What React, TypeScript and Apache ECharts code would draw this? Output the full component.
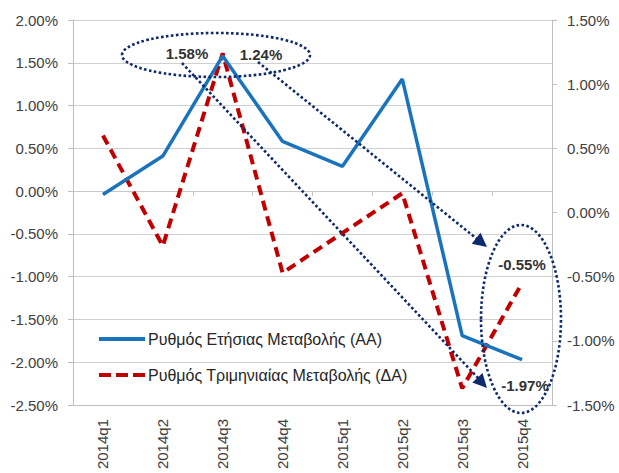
import React, { useEffect, useRef } from "react";
import * as echarts from "echarts";

const categories = ["2014q1", "2014q2", "2014q3", "2014q4", "2015q1", "2015q2", "2015q3", "2015q4"];
const annualRate = [-0.04, 0.41, 1.58, 0.58, 0.29, 1.31, -1.69, -1.97];
const quarterlyRate = [0.6, -0.26, 1.24, -0.47, -0.16, 0.15, -1.37, -0.55];
const seriesNames = ["Ρυθμός Ετήσιας Μεταβολής (ΑΑ)", "Ρυθμός Τριμηνιαίας Μεταβολής (ΔΑ)"];

const FONT = "'Liberation Sans', Arial, sans-serif";
const NAVY = "#0f2a6b";
const TXT = "#404040";
const BLUE = "#1a73bd";
const RED = "#c00000";

function arrowHead(x1: number, y1: number, x2: number, y2: number, len = 14, half = 7) {
  const dx = x2 - x1, dy = y2 - y1;
  const L = Math.hypot(dx, dy);
  const ux = dx / L, uy = dy / L;
  const nx = -uy, ny = ux;
  const bx = x2 - ux * len, by = y2 - uy * len;
  return [
    [x2, y2],
    [bx + nx * half, by + ny * half],
    [bx - nx * half, by - ny * half],
  ];
}

const dotted = { stroke: NAVY, lineWidth: 2.6, lineDash: [2.6, 2.4], fill: "none" };

export default function App() {
  const ref = useRef<HTMLDivElement>(null);
  useEffect(() => {
    if (!ref.current) return;
    const chart = echarts.init(ref.current, undefined, { renderer: "svg" });
    const fmt = (v: number) => v.toFixed(2) + "%";
    const a1 = [258, 62, 487, 247];
    const a2 = [182, 63, 487, 388];
    const labelFont = `bold 15px ${FONT}`;
    chart.setOption({
      animation: false,
      backgroundColor: "#ffffff",
      textStyle: { fontFamily: FONT },
      grid: { left: 73, right: 67, top: 20, bottom: 68 },
      legend: {
        data: [
          { name: seriesNames[0], icon: "path://M0,0H46V4H0Z" },
          { name: seriesNames[1], icon: "path://M0,0H12V4H0Z M17,0H29V4H17Z M34,0H46V4H34Z" },
        ],
        orient: "vertical",
        left: 94,
        top: 326,
        itemWidth: 46,
        itemHeight: 4,
        itemGap: 20,
        textStyle: { fontFamily: FONT, fontSize: 16, color: "#262626", padding: [0, 0, 0, -2] },
      },
      xAxis: [
        {
          type: "category",
          data: categories,
          boundaryGap: true,
          position: "bottom",
          axisLine: { show: true, onZero: false, lineStyle: { color: "#bfbfbf", width: 1 } },
          axisTick: { show: false },
          axisLabel: { rotate: 90, margin: 14, fontSize: 15, color: TXT, fontFamily: FONT },
          splitLine: { show: false },
        },
        {
          type: "category",
          data: categories,
          boundaryGap: true,
          position: "bottom",
          offset: -213.3,
          axisLine: { show: true, onZero: false, lineStyle: { color: "#c8c8c8", width: 1 } },
          axisTick: { show: true, length: 4, lineStyle: { color: "#bfbfbf" } },
          axisLabel: { show: false },
          splitLine: { show: false },
        },
      ],
      yAxis: [
        {
          type: "value",
          min: -2.5,
          max: 2,
          interval: 0.5,
          position: "left",
          axisLine: { show: true, lineStyle: { color: "#bfbfbf" } },
          axisTick: { show: true, length: 5, lineStyle: { color: "#bfbfbf" } },
          axisLabel: { formatter: fmt, fontSize: 15, color: TXT, margin: 15, fontFamily: FONT },
          splitLine: { show: true, lineStyle: { color: "#d0d0d0", width: 1 } },
        },
        {
          type: "value",
          min: -1.5,
          max: 1.5,
          interval: 0.5,
          position: "right",
          axisLine: { show: true, lineStyle: { color: "#bfbfbf" } },
          axisTick: { show: true, length: 5, lineStyle: { color: "#bfbfbf" } },
          axisLabel: { formatter: fmt, fontSize: 15, color: TXT, margin: 15, fontFamily: FONT },
          splitLine: { show: false },
        },
      ],
      series: [
        {
          name: seriesNames[0],
          type: "line",
          data: annualRate,
          yAxisIndex: 0,
          symbol: "none",
          lineStyle: { color: BLUE, width: 3.5 },
          itemStyle: { color: BLUE },
          z: 3,
        },
        {
          name: seriesNames[1],
          type: "line",
          data: quarterlyRate,
          yAxisIndex: 1,
          symbol: "none",
          lineStyle: { color: RED, width: 4, type: [10, 6], cap: "butt" },
          itemStyle: { color: RED },
          z: 2,
        },
      ],
      graphic: [
        { type: "ellipse", shape: { cx: 216, cy: 55, rx: 94, ry: 22 }, style: dotted, z: 10 },
        { type: "ellipse", shape: { cx: 521, cy: 319, rx: 40, ry: 94 }, style: dotted, z: 10 },
        { type: "line", shape: { x1: a1[0], y1: a1[1], x2: a1[2] - 10, y2: a1[3] - 8 }, style: dotted, z: 10 },
        { type: "line", shape: { x1: a2[0], y1: a2[1], x2: a2[2] - 9, y2: a2[3] - 10 }, style: dotted, z: 10 },
        { type: "polygon", shape: { points: arrowHead(a1[0], a1[1], a1[2], a1[3]) }, style: { fill: NAVY }, z: 10 },
        { type: "polygon", shape: { points: arrowHead(a2[0], a2[1], a2[2], a2[3]) }, style: { fill: NAVY }, z: 10 },
        { type: "text", x: 187, y: 53, style: { text: fmt(annualRate[2]), font: labelFont, fill: "#333333", align: "center", verticalAlign: "middle" }, z: 11 },
        { type: "text", x: 261, y: 54, style: { text: fmt(quarterlyRate[2]), font: labelFont, fill: "#333333", align: "center", verticalAlign: "middle" }, z: 11 },
        { type: "text", x: 522, y: 264, style: { text: fmt(quarterlyRate[7]), font: labelFont, fill: "#333333", align: "center", verticalAlign: "middle" }, z: 11 },
        { type: "text", x: 525, y: 385, style: { text: fmt(annualRate[7]), font: labelFont, fill: "#333333", align: "center", verticalAlign: "middle" }, z: 11 },
      ],
    });
    return () => chart.dispose();
  }, []);
  return <div ref={ref} style={{ width: 619, height: 473, position: "fixed", left: 0, top: 0 }} />;
}
